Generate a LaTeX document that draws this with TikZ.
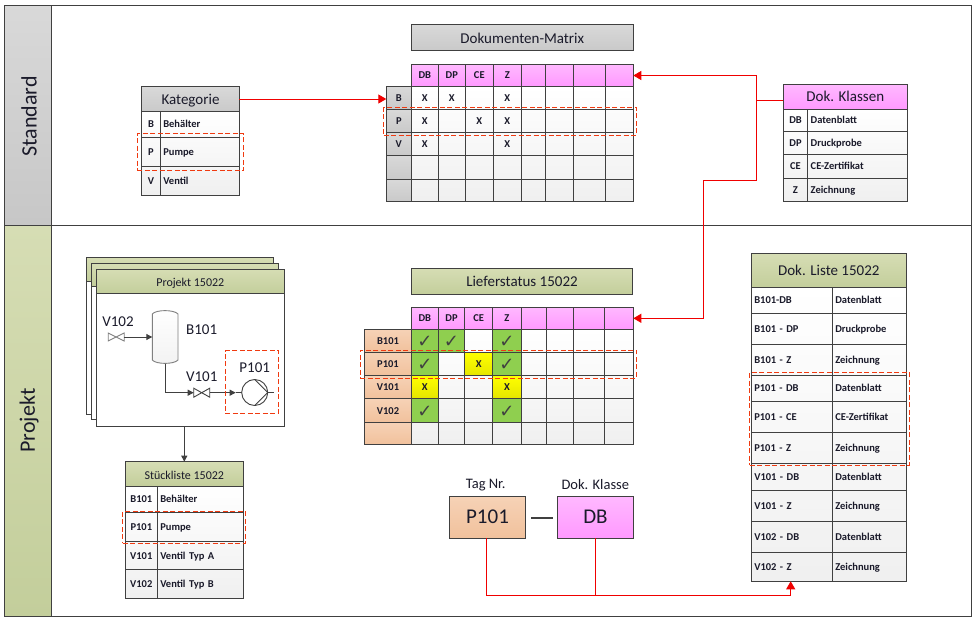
\documentclass[tikz,border=0pt]{standalone}
\usepackage{fontspec}
\setmainfont{Carlito}
\newfontfamily\symf{DejaVu Sans}
\usetikzlibrary{arrows.meta,calc}
\definecolor{ln}{HTML}{404040}
\definecolor{txt}{HTML}{1A1A2A}
\definecolor{rd}{HTML}{F00000}
\definecolor{dsh}{HTML}{F03A10}
\newcommand{\fsz}[1]{\fontsize{#1}{#1}\selectfont}
\tikzset{
  x=1pt,y=-1pt,
  cellb/.style={draw=ln,line width=1pt,anchor=north west,inner sep=0pt,outer sep=0pt,text=txt,font=\fsz{10.5}\bfseries,text height=8pt,text depth=1pt},
  lft/.style={align=left,inner xsep=3pt,text width={\cw-6pt}},
  ctr/.style={align=center},
  plain/.style={},
  gry/.style={top color=gray!30!white,bottom color=gray!42!white,font=\fsz{15},text height=11pt,text depth=1pt},
  oli/.style={top color=olive1,bottom color=olive2,font=\fsz{15},text height=11pt,text depth=1pt},
  pnk/.style={top color=pink1,bottom color=pink2,font=\fsz{15},text height=11pt,text depth=1pt},
  tan/.style={top color=tan1,bottom color=tan2,font=\fsz{10.5}\bfseries},
  pnks/.style={top color=pink1,bottom color=pink2},
  grys/.style={top color=gray!30!white,bottom color=gray!42!white},
  bgs/.style={top color=white,bottom color=black!6,draw=none},
  grn/.style={fill=green1,font=\fsz{18}\symf,text=ln,text height=13pt,text depth=0pt},
  yel/.style={top color=yellow,bottom color=yellow!90!black},
  redline/.style={draw=rd,line width=1pt},
  redar/.style={draw=rd,line width=1pt,-{Triangle[length=8pt,width=9pt]}},
  darkar/.style={draw=ln,line width=1pt,-{Triangle[length=6pt,width=6pt]}},
  reddash/.style={draw=dsh,line width=1pt,dash pattern=on 5pt off 2.5pt},
  pid/.style={draw=ln,line width=.9pt},
  pidg/.style={draw=gray,line width=.9pt},
  lbl/.style={inner sep=0pt,text=txt,font=\fsz{15}},
  bandl/.style={inner sep=0pt,text=txt,font=\fsz{22},rotate=90},
  xl/.style={inner sep=0pt,text=txt,font=\fsz{10.5}\bfseries},
}
\definecolor{olive1}{HTML}{D6DDB4}
\definecolor{olive2}{HTML}{C3CE9B}
\definecolor{pink1}{HTML}{FFB8FF}
\definecolor{pink2}{HTML}{FF99FF}
\definecolor{tan1}{HTML}{F6D2B6}
\definecolor{tan2}{HTML}{F1C19C}
\definecolor{green1}{HTML}{8FCF4F}
\newcommand{\cellbox}[7]{%
  \pgfmathsetlengthmacro\cw{(#4-#2)*1pt}%
  \pgfmathsetlengthmacro\ch{(#5-#3)*1pt}%
  \node[cellb,#6,minimum width=\cw,minimum height=\ch] (#1) at (#2,#3) {#7};}
\newcommand{\trow}[9][ctr]{%
  \cellbox{#2a}{#3}{#6}{#4}{#7}{#1}{#8}%
  \cellbox{#2b}{#4}{#6}{#5}{#7}{lft}{#9}}
\begin{document}
\begin{tikzpicture}
\useasboundingbox (0,0) rectangle (975,618);
\fill[white] (0,0) rectangle (975,618);
% frame
\cellbox{stdbody}{51.7}{5.3}{971}{225.3}{fill=white}{}
\cellbox{prjbody}{51.7}{225.3}{971}{616.7}{fill=white}{}
\cellbox{stdband}{4.7}{5.3}{51.7}{225.3}{top color=gray!30!white,bottom color=gray!44!white}{}
\cellbox{prjband}{4.7}{225.3}{51.7}{616.7}{top color=olive1,bottom color=olive2}{}
\node[bandl] (stdl) at (29,116.5) {Standard};
\node[bandl] (prjl) at (29,420.5) {Projekt};
% Kategorie
\cellbox{kbg}{141.7}{111.3}{239.3}{195.3}{bgs}{}
\cellbox{kh}{141.7}{86.7}{239.3}{111.3}{gry}{Kategorie}
\foreach \n/\ya/\yb/\l/\t in {1/111.3/137.3/B/Behälter,2/137.3/166.3/P/Pumpe,3/166.3/195.3/V/Ventil}{
  \trow{k\n}{141.7}{160.3}{239.3}{\ya}{\yb}{\l}{\t}}
\cellbox{kdash}{137.3}{133.3}{243.7}{170.7}{reddash}{}
% Dokumenten-Matrix
\cellbox{mt}{411.3}{24.3}{633.3}{50.3}{gry,text height=13pt,text depth=0pt}{Dokumenten-Matrix}
\cellbox{mbg}{411.3}{86.3}{633.3}{201.3}{bgs}{}
\foreach \c/\xa/\xb/\t in {1/411.3/438.3/DB,2/438.3/465.3/DP,3/465.3/493.3/CE,4/493.3/521.3/Z,5/521.3/545.3/,6/545.3/573.3/,7/573.3/605.3/,8/605.3/633.3/}{
  \cellbox{mh\c}{\xa}{64.7}{\xb}{86.3}{pnks}{\t}}
\foreach \r/\ya/\yb/\t in {1/86.3/109.3/B,2/109.3/132.3/P,3/132.3/155.3/V,4/155.3/179.3/,5/179.3/201.3/}{
  \cellbox{mr\r}{386.3}{\ya}{411.3}{\yb}{grys}{\t}
  \foreach \c/\xa/\xb in {1/411.3/438.3,2/438.3/465.3,3/465.3/493.3,4/493.3/521.3,5/521.3/545.3,6/545.3/573.3,7/573.3/605.3,8/605.3/633.3}{
    \cellbox{m\r c\c}{\xa}{\ya}{\xb}{\yb}{plain}{}}}
\foreach \a in {m1c1,m1c2,m1c4,m2c1,m2c3,m2c4,m3c1,m3c4}{\node[xl] (x\a) at (\a) {X};}
\cellbox{mdash}{383.7}{107.7}{636.7}{135}{reddash}{}
% Dok. Klassen
\cellbox{dbg}{783.3}{109.7}{907.3}{201.3}{bgs}{}
\cellbox{dh}{783.3}{84.3}{907.3}{109.7}{pnk}{Dok. Klassen}
\foreach \n/\ya/\yb/\l/\t in {1/109.7/131.3/DB/Datenblatt,2/131.3/154.3/DP/Druckprobe,3/154.3/178.3/CE/CE-Zertifikat,4/178.3/201.3/Z/Zeichnung}{
  \trow{d\n}{783.3}{807.7}{907.3}{\ya}{\yb}{\l}{\t}}
% Projekt stack
\cellbox{p3}{86.3}{257.3}{273.7}{414.7}{fill=white}{}
\cellbox{p3h}{86.3}{257.3}{273.7}{281.7}{oli}{}
\cellbox{p2}{91.3}{263.3}{278.7}{419.3}{fill=white}{}
\cellbox{p2h}{91.3}{263.3}{278.7}{286}{oli}{}
\cellbox{p1}{96.3}{269.3}{284.3}{426.3}{fill=white}{}
\cellbox{p1h}{96.3}{269.3}{284.3}{293.7}{oli,font=\fsz{12}}{Projekt 15022}
% P&ID
\coordinate (v2c) at (116.2,337);
\coordinate (vesl) at (152.3,337);
\coordinate (vesb) at (165.7,363.5);
\coordinate (v1c) at (201.7,392.7);
\coordinate (pin) at (241.7,392.7);
\coordinate (pc) at (254.7,392.5);
\draw[pidg,top color=white,bottom color=black!5] (152.3,314) .. controls (156,309.5) and (174,309.5) .. (178,314) -- (178,360) .. controls (174,364.5) and (156,364.5) .. (152.3,360) -- cycle;
\draw[pidg,fill=white] ($(v2c)+(-8,-4)$) -- ($(v2c)+(8,4)$) -- ($(v2c)+(8,-4)$) -- ($(v2c)+(-8,4)$) -- cycle;
\draw[pid,fill=white] ($(v1c)+(-8,-4.5)$) -- ($(v1c)+(8,4.5)$) -- ($(v1c)+(8,-4.5)$) -- ($(v1c)+(-8,4.5)$) -- cycle;
\draw[darkar] ($(v2c)+(8,0)$) -- (vesl);
\draw[darkar] (vesb) |- ($(v1c)+(-8,0)$);
\draw[darkar] ($(v1c)+(8,0)$) -- ($(pin)+(-6,0)$);
\draw[pid] ($(pin)+(-6,0)$) -- (pin);
\draw[pid,fill=white] (pc) circle (13);
\draw[pid] (254.7,379.5) -- (267.7,392.5) -- (254.7,405.5);
\draw[pid] (267.7,392.5) -- (274,392.5);
\node[lbl] (tv102) at (118,321.7) {V102};
\node[lbl] (tb101) at (201.7,330) {B101};
\node[lbl] (tv101) at (201.7,376.7) {V101};
\node[lbl] (tp101) at (254.7,367.3) {P101};
\cellbox{pdash}{225.3}{350.7}{278.7}{413.3}{reddash}{}
% Stueckliste
\cellbox{sbg}{125.3}{486.3}{243.3}{598}{bgs}{}
\cellbox{sh}{125.3}{461.7}{243.3}{486.3}{oli,font=\fsz{12}}{Stückliste 15022}
\foreach \n/\ya/\yb/\l/\t in {1/486.3/512.3/B101/Behälter,2/512.3/541.7/P101/Pumpe,3/541.7/569.3/V101/Ventil Typ A,4/569.3/598/V102/Ventil Typ B}{
  \trow{s\n}{125.3}{157.3}{243.3}{\ya}{\yb}{\l}{\t}}
\cellbox{sdash}{122.7}{511.7}{245.7}{543}{reddash}{}
\draw[darkar] (p1.south -| sh.north) -- (sh.north);
% Lieferstatus
\cellbox{lt}{411.3}{268.3}{632.7}{294.3}{oli}{Lieferstatus 15022}
\cellbox{lbg}{411.3}{329.3}{633.3}{444.3}{bgs}{}
\foreach \c/\xa/\xb/\t in {1/411.3/438.3/DB,2/438.3/464.7/DP,3/464.7/492.7/CE,4/492.7/521.3/Z,5/521.3/546.3/,6/546.3/573.3/,7/573.3/604.7/,8/604.7/633.3/}{
  \cellbox{lh\c}{\xa}{307.3}{\xb}{329.3}{pnks}{\t}}
\foreach \r/\ya/\yb/\t in {1/329.3/352.3/B101,2/352.3/375.7/P101,3/375.7/398.7/V101,4/398.7/422.3/V102,5/422.3/444.3/}{
  \cellbox{lr\r}{364.7}{\ya}{411.3}{\yb}{tan}{\t}
  \foreach \c/\xa/\xb in {1/411.3/438.3,2/438.3/464.7,3/464.7/492.7,4/492.7/521.3,5/521.3/546.3,6/546.3/573.3,7/573.3/604.7,8/604.7/633.3}{
    \cellbox{l\r c\c}{\xa}{\ya}{\xb}{\yb}{plain}{}}}
\foreach \r/\ya/\yb in {1/329.3/352.3,2/352.3/375.7,4/398.7/422.3}{
  \cellbox{lg\r a}{411.3}{\ya}{438.3}{\yb}{grn}{✓}
  \cellbox{lg\r d}{492.7}{\ya}{521.3}{\yb}{grn}{✓}}
\cellbox{lg1b}{438.3}{329.3}{464.7}{352.3}{grn}{✓}
\cellbox{ly1}{464.7}{352.3}{492.7}{375.7}{yel}{X}
\cellbox{ly2}{411.3}{375.7}{438.3}{398.7}{yel}{X}
\cellbox{ly3}{492.7}{375.7}{521.3}{398.7}{yel}{X}
\cellbox{ldash}{360.3}{350.3}{636.7}{378}{reddash}{}
% Dok Liste
\cellbox{zbg}{751.3}{287.3}{906.3}{581.3}{bgs}{}
\cellbox{zh}{751.3}{253.7}{906.3}{287.3}{oli}{Dok. Liste 15022}
\foreach \n/\ya/\yb/\l/\t in {1/287.3/313.3/B101-DB/Datenblatt,2/313.3/344/B101 - DP/Druckprobe,3/344/375/B101 - Z/Zeichnung,4/375/401.3/P101 - DB/Datenblatt,5/401.3/432.7/P101 - CE/CE-Zertifikat,6/432.7/463.3/P101 - Z/Zeichnung,7/463.3/490.7/V101 - DB/Datenblatt,8/490.7/521.3/V101 - Z/Zeichnung,9/521.3/552.3/V102 - DB/Datenblatt,10/552.3/581.3/V102 - Z/Zeichnung}{
  \trow[lft]{z\n}{751.3}{832.3}{906.3}{\ya}{\yb}{\l}{\t}}
\cellbox{zdash}{749.7}{372.7}{909.3}{465.3}{reddash}{}
% Tag + Klasse
\cellbox{tag}{449.3}{496.3}{525.7}{538.3}{top color=tan1,bottom color=tan2,font=\fsz{21},text height=14pt,text depth=1pt}{P101}
\cellbox{kla}{557.3}{496.3}{633.7}{538.3}{top color=pink1,bottom color=pink2,font=\fsz{21},text height=14pt,text depth=1pt}{DB}
\node[lbl,font=\fsz{14.5}] (tagl) at (485.7,484.7) {Tag Nr.};
\node[lbl,font=\fsz{14.5}] (klal) at (595.3,484.7) {Dok. Klasse};
\coordinate (sep1) at (531,517.7);
\coordinate (sep2) at (553,517.7);
\draw[draw=ln,line width=2pt] (sep1) -- (sep2);
% red connectors
\draw[redar] (kh.east) -- (kh.east -| mr1.west);
\coordinate (dout) at (783.3,100);
\coordinate (dj) at (756.7,100);
\coordinate (dk) at (703.3,180.3);
\draw[redline] (dout) -- (dj);
\draw[redar] (dj) |- (mh8.east);
\draw[redar] (dj) |- (dk) |- (lh8.east);
\coordinate (bus) at (486.3,595.3);
\coordinate (zin) at (790.7,581.3);
\draw[redar] (tag.south -| bus) -- (bus) -| (zin);
\draw[redline] (kla.south) -- (kla.south |- bus);
\end{tikzpicture}
\end{document}
